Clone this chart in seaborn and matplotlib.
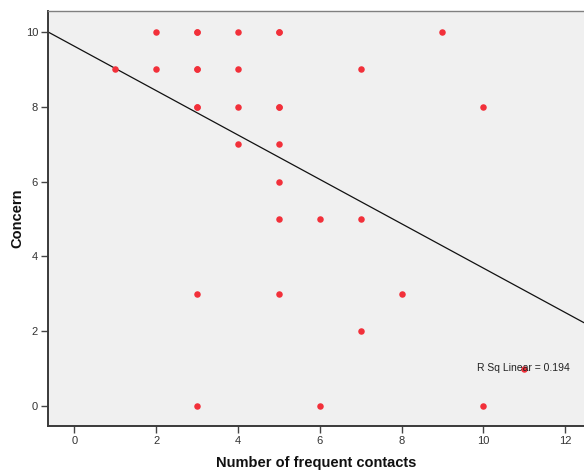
import numpy as np
import pandas as pd
import matplotlib
matplotlib.use("Agg")
import matplotlib.pyplot as plt
import seaborn as sns

# Respondents: number of frequent contacts vs. concern score
contacts = [1, 2, 2, 3, 3, 3, 3, 3, 4, 4, 4, 4, 5, 5, 5, 5, 5, 5,
            6, 6, 7, 7, 7, 8, 9, 10, 10, 11]
concern = [9, 10, 9, 10, 9, 8, 3, 0, 10, 9, 8, 7, 10, 8, 7, 6, 5, 3,
           5, 0, 9, 5, 2, 3, 10, 8, 0, 1]
# how many respondents share each (contacts, concern) pair
counts = [1, 1, 1, 2, 2, 2, 1, 1, 1, 1, 1, 1, 2, 2, 1, 1, 1, 1,
          1, 1, 1, 1, 1, 1, 1, 1, 1, 1]
r_sq_label = "R Sq Linear = 0.194"

df = pd.DataFrame({"contacts": contacts, "concern": concern, "n": counts})
df = df.loc[df.index.repeat(df["n"])].reset_index(drop=True)

sns.set_style("white")
plt.rcParams["font.family"] = ["Liberation Sans", "DejaVu Sans"]

fig = plt.figure(figsize=(5.84, 4.75), dpi=100)
ax = fig.add_axes([0.0817, 0.1032, 0.9183, 0.8736])
ax.set_facecolor("#f0f0f0")
ax.set_xlim(-0.65, 12.46)
ax.set_ylim(-0.53, 10.56)

sns.regplot(data=df, x="contacts", y="concern", ax=ax, ci=None, truncate=False,
            scatter_kws=dict(color="#f2303a", s=22, linewidths=0, alpha=1, zorder=3),
            line_kws=dict(color="#111111", lw=0.9, zorder=2))

ax.set_xticks([0, 2, 4, 6, 8, 10, 12])
ax.set_yticks([0, 2, 4, 6, 8, 10])
ax.tick_params(axis="both", direction="out", length=5, width=1, color="#444444",
               labelsize=8, labelcolor="#333333", pad=2)
ax.tick_params(axis="x", bottom=True)
ax.tick_params(axis="y", left=True)

for side in ("left", "bottom"):
    ax.spines[side].set_color("#3a3a3a")
    ax.spines[side].set_linewidth(1.4)
ax.spines["top"].set_color("#808080")
ax.spines["top"].set_linewidth(1.0)
ax.spines["right"].set_visible(False)

ax.set_xlabel("Number of frequent contacts", fontsize=10.5, fontweight="bold",
              color="#111111", va="center")
ax.set_ylabel("Concern", fontsize=10.5, fontweight="bold", color="#111111",
              va="center")
ax.xaxis.set_label_coords(0.5, -0.089)
ax.yaxis.set_label_coords(-0.057, 0.501)

ax.text(9.84, 1.02, r_sq_label, fontsize=7.5, color="#222222",
        ha="left", va="center", zorder=4)

fig.savefig("out.png", dpi=100)
